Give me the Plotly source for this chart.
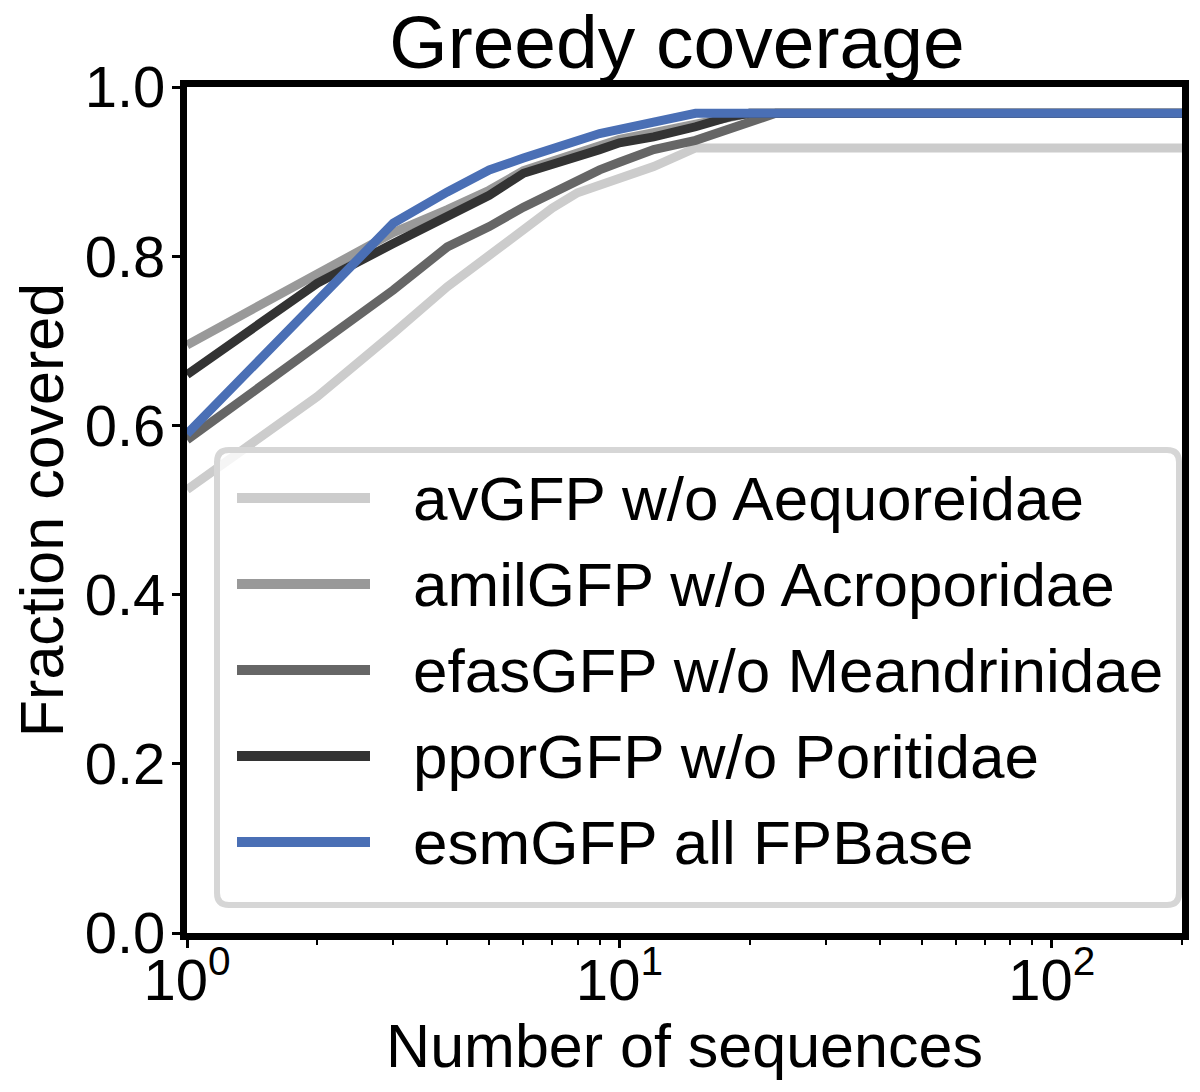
import plotly.graph_objects as go

# ---- data ----
n_sequences = [1, 2, 3, 4, 5, 6, 7, 8, 9, 10, 12, 15, 18, 20, 23, 200]

av_gfp   = [0.524, 0.634, 0.709, 0.764, 0.801, 0.831, 0.857, 0.875, 0.884, 0.892, 0.906, 0.928, 0.928, 0.928, 0.928, 0.928]
amil_gfp = [0.695, 0.778, 0.828, 0.855, 0.878, 0.901, 0.912, 0.921, 0.930, 0.938, 0.946, 0.957, 0.966, 0.969, 0.969, 0.969]
efas_gfp = [0.583, 0.693, 0.760, 0.811, 0.835, 0.858, 0.875, 0.888, 0.902, 0.911, 0.926, 0.937, 0.951, 0.959, 0.969, 0.969]
ppor_gfp = [0.660, 0.768, 0.815, 0.846, 0.872, 0.898, 0.908, 0.916, 0.926, 0.934, 0.941, 0.953, 0.965, 0.969, 0.969, 0.969]
esm_gfp  = [0.590, 0.748, 0.839, 0.876, 0.902, 0.916, 0.928, 0.938, 0.945, 0.950, 0.959, 0.969, 0.969, 0.969, 0.969, 0.969]

series_names = [
    "avGFP w/o Aequoreidae",
    "amilGFP w/o Acroporidae",
    "efasGFP w/o Meandrinidae",
    "pporGFP w/o Poritidae",
    "esmGFP all FPBase",
]
series_values = [av_gfp, amil_gfp, efas_gfp, ppor_gfp, esm_gfp]
series_colors = ["#cccccc", "#999999", "#666666", "#333333", "#4a6fb5"]

x_tick_vals = [1, 10, 100]
x_tick_text = ["10<sup>0</sup>", "10<sup>1</sup>", "10<sup>2</sup>"]
x_minor_vals = [2, 3, 4, 5, 6, 7, 8, 9, 20, 30, 40, 50, 60, 70, 80, 90, 200]
y_tick_vals = [0.0, 0.2, 0.4, 0.6, 0.8, 1.0]
y_tick_text = ["0.0", "0.2", "0.4", "0.6", "0.8", "1.0"]

FONT = "Liberation Sans, Arial, Helvetica, sans-serif"
W, H = 1200, 1092
OFF = 8  # page body margin offset
# plot area in screen pixels
SL, SR, ST, SB = 187, 1182, 87, 933
L = SL - OFF
T = ST - OFF
R = W - (SR - OFF)
B = H - (SB - OFF)

fig = go.Figure()
for name, vals, col in zip(series_names, series_values, series_colors):
    fig.add_trace(go.Scatter(
        x=n_sequences, y=vals, mode="lines", name=name,
        line=dict(color=col, width=9), showlegend=False,
    ))

# ---- legend drawn manually (rounded box, long swatches) ----
pw = SR - SL
ph = SB - ST
def px_x(p):
    return (p - SL) / pw
def px_y(p):
    return (SB - p) / ph

bx0, bx1 = px_x(217), px_x(1179)
by0, by1 = px_y(905), px_y(450)
rx, ry = 12 / pw, 12 / ph
box_path = (
    f"M {bx0+rx},{by1} L {bx1-rx},{by1} Q {bx1},{by1} {bx1},{by1-ry} "
    f"L {bx1},{by0+ry} Q {bx1},{by0} {bx1-rx},{by0} "
    f"L {bx0+rx},{by0} Q {bx0},{by0} {bx0},{by0+ry} "
    f"L {bx0},{by1-ry} Q {bx0},{by1} {bx0+rx},{by1} Z"
)
shapes = [dict(type="path", path=box_path, xref="paper", yref="paper",
               line=dict(color="#d6d6d6", width=6),
               fillcolor="rgba(255,255,255,0.8)", layer="above")]
annotations = []
row_py = [498, 584, 670, 756, 842]
for name, col, ry_px in zip(series_names, series_colors, row_py):
    yy = px_y(ry_px)
    shapes.append(dict(type="line", xref="paper", yref="paper",
                       x0=px_x(237), x1=px_x(370), y0=yy, y1=yy,
                       line=dict(color=col, width=10), layer="above"))
    annotations.append(dict(text=name, xref="paper", yref="paper",
                            x=px_x(411), y=yy, xanchor="left", yanchor="middle",
                            showarrow=False, font=dict(family=FONT, size=62, color="black")))

fig.update_layout(
    width=W, height=H,
    margin=dict(l=L, r=R, t=T, b=B, pad=0, autoexpand=False),
    paper_bgcolor="white", plot_bgcolor="white",
    font=dict(family=FONT, color="black"),
    title=dict(text="Greedy coverage", x=px_x(677), xref="paper", xanchor="center",
               y=1 - (42 - OFF) / H, yref="container", yanchor="middle",
               font=dict(family=FONT, size=75, color="black")),
    showlegend=False,
    shapes=shapes,
    annotations=annotations,
)

fig.update_xaxes(
    type="log", range=[0, 2.30103], automargin=False,
    tickmode="array", tickvals=x_tick_vals, ticktext=x_tick_text,
    ticks="outside", ticklen=8, tickwidth=3, tickcolor="black",
    ticklabelstandoff=-18,
    minor=dict(tickmode="array", tickvals=x_minor_vals, ticks="outside",
               ticklen=5, tickwidth=2, tickcolor="black", showgrid=False),
    tickfont=dict(family=FONT, size=58, color="black"),
    showline=True, linewidth=7, linecolor="black", mirror=True,
    showgrid=False, zeroline=False,
    title=dict(text="Number of sequences", standoff=0,
               font=dict(family=FONT, size=61, color="black")),
)
fig.update_yaxes(
    range=[0, 1], automargin=False,
    tickmode="array", tickvals=y_tick_vals, ticktext=y_tick_text,
    ticks="outside", ticklen=8, tickwidth=3, tickcolor="black",
    ticklabelstandoff=-5,
    tickfont=dict(family=FONT, size=58, color="black"),
    showline=True, linewidth=7, linecolor="black", mirror=True,
    showgrid=False, zeroline=False,
    title=dict(text="Fraction covered", standoff=37,
               font=dict(family=FONT, size=61, color="black")),
)

fig.write_html("out.html")
